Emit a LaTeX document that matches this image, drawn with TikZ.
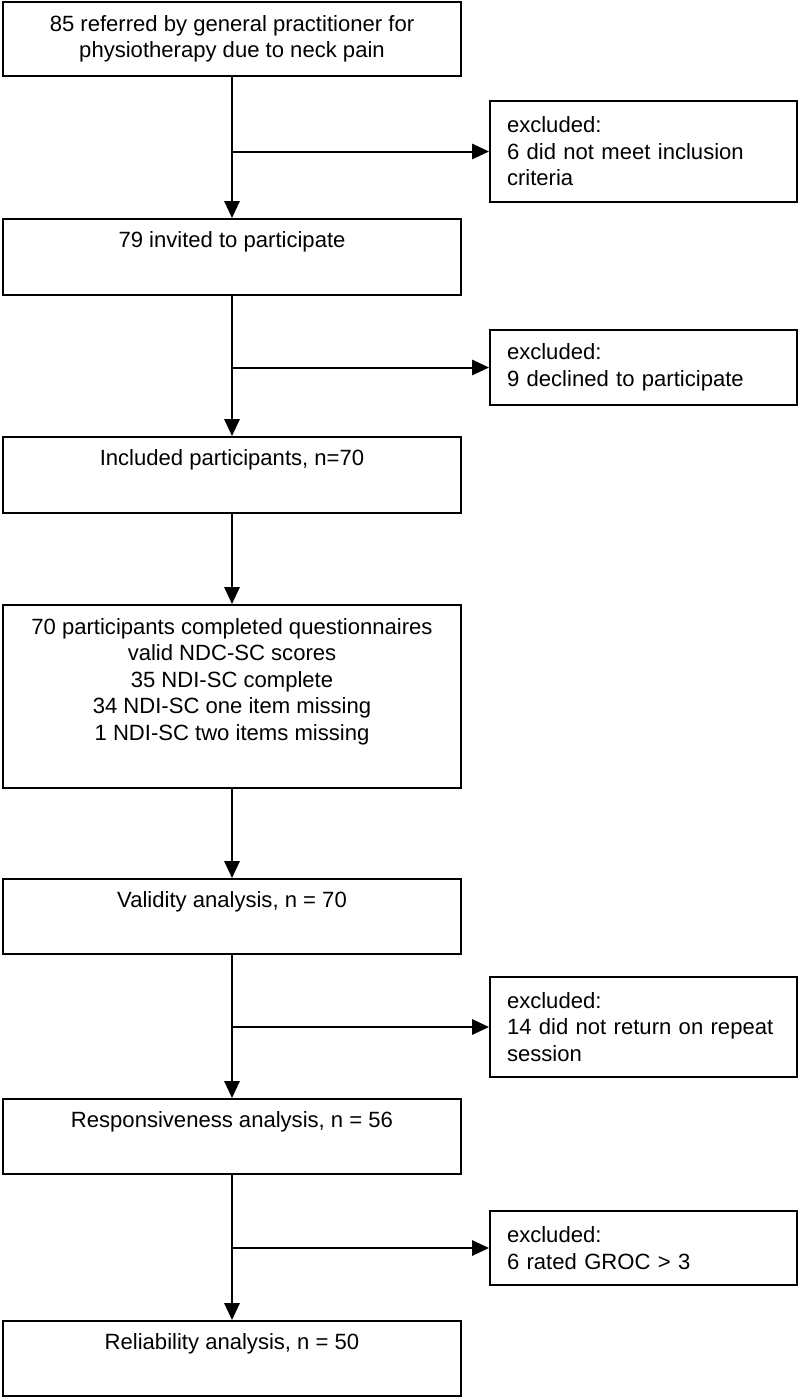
\documentclass[tikz,border=0pt]{standalone}
\usepackage{fontspec}
\setmainfont{Liberation Sans}
\usetikzlibrary{arrows.meta}

\begin{document}
\begin{tikzpicture}[x=1cm,y=1cm,
    font=\fontsize{15.7}{18.85}\selectfont,
    stage/.style={draw, line width=0.05cm, minimum width=11.45cm, align=center, inner sep=0pt},
    excl/.style={draw, line width=0.05cm, minimum width=7.675cm, text width=6.825cm, align=left, inner xsep=0.425cm, inner ysep=0pt},
    flow/.style={-{Triangle[length=0.42cm,width=0.38cm]}, line width=0.05cm}]
    \useasboundingbox (0,0) rectangle (20,-34.925);

    \node[stage, minimum height=1.85cm] (refer) at (5.8,-0.975) {85 referred by general practitioner for\\physiotherapy due to neck pain};
    \node[stage, minimum height=1.9cm] (invited) at (5.8,-6.425) {79 invited to participate\\\strut};
    \node[stage, minimum height=1.9cm] (included) at (5.8,-11.875) {Included participants, n=70\\\strut};
    \node[stage, minimum height=4.575cm] (completed) at (5.8,-17.4125) {70 participants completed questionnaires\\valid NDC-SC scores\\35 NDI-SC complete\\34 NDI-SC one item missing\\1 NDI-SC two items missing\\\strut};
    \node[stage, minimum height=1.875cm] (validity) at (5.8,-22.9125) {Validity analysis, n = 70\\\strut};
    \node[stage, minimum height=1.875cm] (respons) at (5.8,-28.4125) {Responsiveness analysis, n = 56\\\strut};
    \node[stage, minimum height=1.875cm] (reliab) at (5.8,-33.9625) {Reliability analysis, n = 50\\\strut};

    \node[excl, minimum height=2.525cm] (exA) at (16.0875,-3.7875) {excluded:\\6 did not meet inclusion\\criteria};
    \node[excl, minimum height=1.875cm] (exB) at (16.0875,-9.1875) {excluded:\\9 declined to participate};
    \node[excl, minimum height=2.5cm] (exC) at (16.0875,-25.675) {excluded:\\14 did not return on repeat\\session};
    \node[excl, minimum height=1.85cm] (exD) at (16.0875,-31.2) {excluded:\\6 rated GROC > 3};

    \draw[flow] (refer) -- (invited);
    \draw[flow] (refer.south |- exA.west) -- (exA.west);
    \draw[flow] (invited) -- (included);
    \draw[flow] (invited.south |- exB.west) -- (exB.west);
    \draw[flow] (included) -- (completed);
    \draw[flow] (completed) -- (validity);
    \draw[flow] (validity) -- (respons);
    \draw[flow] (validity.south |- exC.west) -- (exC.west);
    \draw[flow] (respons) -- (reliab);
    \draw[flow] (respons.south |- exD.west) -- (exD.west);
\end{tikzpicture}
\end{document}
